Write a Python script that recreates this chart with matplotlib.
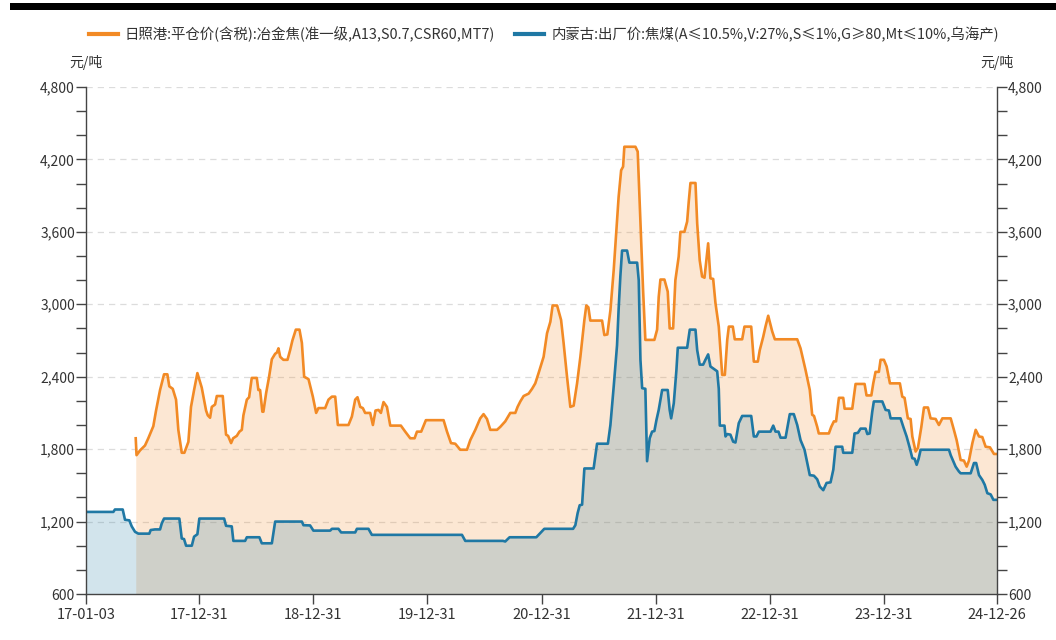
import numpy as np
import pandas as pd
import matplotlib
matplotlib.use("Agg")
import matplotlib.pyplot as plt
from matplotlib.lines import Line2D
from matplotlib.patches import Rectangle
from matplotlib.ticker import FuncFormatter, MultipleLocator

plt.rcParams['font.family'] = ['Noto Sans CJK SC', 'DejaVu Sans']

# ---- data (time in decimal years, price in 元/吨) ----
coke_t = [2017.441, 2017.448, 2017.479, 2017.522, 2017.551, 2017.595, 2017.619, 2017.654, 2017.689, 2017.718,
          2017.735, 2017.765, 2017.794, 2017.814, 2017.844, 2017.867, 2017.902, 2017.925, 2017.952, 2017.981,
          2018.019, 2018.057, 2018.072, 2018.092, 2018.107, 2018.136, 2018.151, 2018.203, 2018.215, 2018.232,
          2018.250, 2018.276, 2018.294, 2018.326, 2018.349, 2018.370, 2018.384, 2018.414, 2018.434, 2018.457,
          2018.501, 2018.515, 2018.530, 2018.550, 2018.559, 2018.583, 2018.609, 2018.633, 2018.662, 2018.677,
          2018.691, 2018.706, 2018.734, 2018.770, 2018.793, 2018.813, 2018.843, 2018.875, 2018.896, 2018.916,
          2018.954, 2018.992, 2019.021, 2019.041, 2019.100, 2019.129, 2019.159, 2019.188, 2019.211, 2019.304,
          2019.334, 2019.363, 2019.383, 2019.407, 2019.430, 2019.450, 2019.494, 2019.518, 2019.541, 2019.567,
          2019.588, 2019.611, 2019.641, 2019.670, 2019.763, 2019.801, 2019.845, 2019.883, 2019.904, 2019.941,
          2019.982, 2020.137, 2020.167, 2020.202, 2020.239, 2020.283, 2020.342, 2020.371, 2020.415, 2020.458,
          2020.487, 2020.517, 2020.546, 2020.605, 2020.634, 2020.677, 2020.721, 2020.765, 2020.785, 2020.809,
          2020.838, 2020.882, 2020.912, 2020.940, 2020.969, 2021.013, 2021.043, 2021.072, 2021.092, 2021.131,
          2021.166, 2021.188, 2021.218, 2021.247, 2021.276, 2021.306, 2021.335, 2021.370, 2021.387, 2021.405,
          2021.422, 2021.525, 2021.545, 2021.571, 2021.598, 2021.627, 2021.650, 2021.670, 2021.692, 2021.709,
          2021.720, 2021.817, 2021.837, 2021.861, 2021.884, 2021.904, 2021.983, 2022.007, 2022.021, 2022.036,
          2022.071, 2022.100, 2022.117, 2022.147, 2022.167, 2022.196, 2022.211, 2022.246, 2022.270, 2022.284,
          2022.299, 2022.343, 2022.358, 2022.380, 2022.401, 2022.422, 2022.454, 2022.474, 2022.498, 2022.518,
          2022.547, 2022.577, 2022.600, 2022.621, 2022.635, 2022.670, 2022.687, 2022.752, 2022.772, 2022.831,
          2022.854, 2022.889, 2022.906, 2022.936, 2022.956, 2022.980, 2023.015, 2023.038, 2023.234, 2023.263,
          2023.307, 2023.344, 2023.365, 2023.381, 2023.409, 2023.423, 2023.511, 2023.532, 2023.555, 2023.574,
          2023.599, 2023.637, 2023.649, 2023.716, 2023.745, 2023.824, 2023.841, 2023.883, 2023.900, 2023.920,
          2023.949, 2023.964, 2023.993, 2024.017, 2024.046, 2024.133, 2024.154, 2024.174, 2024.203, 2024.227,
          2024.242, 2024.271, 2024.291, 2024.321, 2024.344, 2024.379, 2024.402, 2024.446, 2024.475, 2024.505,
          2024.578, 2024.606, 2024.630, 2024.665, 2024.694, 2024.718, 2024.738, 2024.768, 2024.797, 2024.826,
          2024.855, 2024.884, 2024.922, 2024.957, 2024.984]
coke_v = [1890, 1750, 1790, 1830, 1890, 1990, 2120, 2290, 2420, 2420,
          2320, 2300, 2210, 1960, 1770, 1770, 1860, 2150, 2290, 2430,
          2310, 2120, 2080, 2060, 2150, 2170, 2240, 2240, 2100, 1920,
          1910, 1850, 1890, 1910, 1945, 1960, 2080, 2210, 2230, 2390,
          2390, 2290, 2290, 2110, 2110, 2265, 2400, 2545, 2590, 2600,
          2635, 2565, 2540, 2540, 2620, 2700, 2790, 2790, 2680, 2400,
          2380, 2235, 2100, 2140, 2140, 2210, 2235, 2235, 2000, 2000,
          2070, 2210, 2230, 2150, 2140, 2100, 2100, 2000, 2120, 2125,
          2100, 2190, 2150, 1995, 1995, 1945, 1890, 1890, 1945, 1945,
          2040, 2040, 1945, 1850, 1845, 1795, 1795, 1875, 1960, 2055,
          2090, 2050, 1960, 1960, 1985, 2030, 2100, 2100, 2150, 2195,
          2240, 2260, 2300, 2345, 2430, 2565, 2760, 2855, 2990, 2990,
          2870, 2680, 2400, 2150, 2160, 2345, 2565, 2870, 2990, 2975,
          2865, 2865, 2745, 2750, 2950, 3285, 3615, 3890, 4110, 4140,
          4305, 4305, 4265, 3670, 3120, 2705, 2705, 2790, 3060, 3205,
          3205, 3105, 2800, 2800, 3200, 3395, 3600, 3600, 3685, 3850,
          4005, 4005, 3670, 3365, 3230, 3220, 3505, 3215, 3210, 3010,
          2815, 2415, 2415, 2705, 2815, 2815, 2710, 2710, 2815, 2815,
          2525, 2525, 2620, 2730, 2815, 2905, 2775, 2710, 2710, 2635,
          2455, 2290, 2085, 2075, 1985, 1930, 1930, 1985, 2030, 2030,
          2225, 2225, 2135, 2135, 2340, 2340, 2245, 2245, 2345, 2440,
          2440, 2540, 2540, 2485, 2345, 2345, 2235, 2225, 2055, 2050,
          1905, 1780, 1810, 1985, 2145, 2145, 2055, 2050, 2000, 2055,
          2055, 1960, 1875, 1710, 1705, 1655, 1705, 1850, 1960, 1905,
          1900, 1820, 1815, 1760, 1760]

coal_t = [2017.005, 2017.245, 2017.259, 2017.327, 2017.347, 2017.385, 2017.406, 2017.435, 2017.464, 2017.560,
          2017.572, 2017.610, 2017.654, 2017.669, 2017.689, 2017.823, 2017.844, 2017.864, 2017.882, 2017.932,
          2017.952, 2017.981, 2017.998, 2018.215, 2018.232, 2018.282, 2018.296, 2018.399, 2018.414, 2018.524,
          2018.545, 2018.633, 2018.662, 2018.896, 2018.910, 2018.968, 2018.997, 2019.144, 2019.159, 2019.216,
          2019.240, 2019.363, 2019.378, 2019.479, 2019.509, 2020.298, 2020.327, 2020.657, 2020.677, 2020.715,
          2020.949, 2020.969, 2021.019, 2021.271, 2021.291, 2021.311, 2021.329, 2021.350, 2021.370, 2021.451,
          2021.481, 2021.576, 2021.598, 2021.627, 2021.656, 2021.670, 2021.685, 2021.700, 2021.744, 2021.764,
          2021.832, 2021.846, 2021.861, 2021.876, 2021.904, 2021.919, 2021.942, 2021.963, 2021.983, 2022.001,
          2022.021, 2022.051, 2022.100, 2022.117, 2022.130, 2022.153, 2022.176, 2022.188, 2022.270, 2022.293,
          2022.343, 2022.358, 2022.380, 2022.410, 2022.430, 2022.454, 2022.474, 2022.533, 2022.547, 2022.556,
          2022.597, 2022.606, 2022.621, 2022.649, 2022.673, 2022.693, 2022.722, 2022.752, 2022.831, 2022.854,
          2022.877, 2022.898, 2023.000, 2023.024, 2023.044, 2023.070, 2023.088, 2023.132, 2023.146, 2023.169,
          2023.204, 2023.234, 2023.263, 2023.298, 2023.322, 2023.344, 2023.380, 2023.409, 2023.432, 2023.462,
          2023.491, 2023.526, 2023.550, 2023.570, 2023.628, 2023.637, 2023.716, 2023.736, 2023.765, 2023.789,
          2023.833, 2023.848, 2023.868, 2023.891, 2023.905, 2023.979, 2024.008, 2024.037, 2024.052, 2024.139,
          2024.163, 2024.192, 2024.221, 2024.242, 2024.262, 2024.280, 2024.297, 2024.315, 2024.563, 2024.578,
          2024.621, 2024.650, 2024.665, 2024.753, 2024.782, 2024.801, 2024.826, 2024.855, 2024.876, 2024.899,
          2024.928, 2024.952, 2024.984]
coal_v = [1280, 1280, 1300, 1300, 1215, 1210, 1160, 1115, 1100, 1100,
          1130, 1135, 1135, 1185, 1225, 1225, 1060, 1055, 1000, 1000,
          1075, 1095, 1225, 1225, 1165, 1160, 1040, 1040, 1070, 1070,
          1020, 1020, 1200, 1200, 1170, 1168, 1125, 1125, 1140, 1140,
          1110, 1110, 1140, 1140, 1090, 1090, 1040, 1040, 1035, 1070,
          1070, 1090, 1140, 1140, 1170, 1270, 1335, 1340, 1640, 1640,
          1845, 1845, 2000, 2320, 2660, 2960, 3230, 3445, 3445, 3345,
          3345, 3200, 2540, 2305, 2300, 1700, 1890, 1945, 1950, 2040,
          2125, 2290, 2290, 2125, 2055, 2180, 2455, 2640, 2640, 2790,
          2790, 2620, 2500, 2500, 2540, 2585, 2485, 2445, 2300, 1995,
          1995, 1905, 1925, 1920, 1862, 1855, 2015, 2075, 2075, 1905,
          1905, 1945, 1945, 1995, 1945, 1945, 1895, 1895, 1970, 2090,
          2090, 2000, 1875, 1795, 1685, 1585, 1580, 1550, 1490, 1460,
          1520, 1525, 1630, 1820, 1820, 1770, 1770, 1930, 1935, 1970,
          1970, 1925, 1930, 2110, 2195, 2195, 2125, 2120, 2055, 2055,
          1985, 1905, 1805, 1725, 1720, 1670, 1720, 1795, 1795, 1750,
          1655, 1615, 1600, 1600, 1685, 1685, 1585, 1545, 1505, 1435,
          1425, 1380, 1380]

x_ticks = ['2017-01-03', '2017-12-31', '2018-12-31', '2019-12-31', '2020-12-31',
           '2021-12-31', '2022-12-31', '2023-12-31', '2024-12-26']
x_labels = ['17-01-03', '17-12-31', '18-12-31', '19-12-31', '20-12-31',
            '21-12-31', '22-12-31', '23-12-31', '24-12-26']
y_ticks = [600, 1200, 1800, 2400, 3000, 3600, 4200, 4800]

name_coke = '日照港:平仓价(含税):冶金焦(准一级,A13,S0.7,CSR60,MT7)'
name_coal = '内蒙古:出厂价:焦煤(A≤10.5%,V:27%,S≤1%,G≥80,Mt≤10%,乌海产)'
unit = '元/吨'


def to_dates(years):
    base = pd.Timestamp('2017-01-01')
    return base + pd.to_timedelta((np.asarray(years) - 2017.0) * 365.25, unit='D')


ORANGE = '#f28a25'
BLUE = '#1f78a4'
TXT = '#333333'

fig = plt.figure(figsize=(10.56, 6.4), dpi=100)
W, H = 1056, 640
ax = fig.add_axes([86 / W, 1 - 594 / H, (997 - 86) / W, (594 - 87) / H])

ct = to_dates(coke_t)
bt = to_dates(coal_t)

ax.fill_between(ct, coke_v, 600, color=ORANGE, alpha=0.2, linewidth=0, zorder=1)
ax.fill_between(bt, coal_v, 600, color=BLUE, alpha=0.2, linewidth=0, zorder=2)
ax.plot(ct, coke_v, color=ORANGE, lw=1.9, zorder=4, solid_joinstyle='round')
ax.plot(bt, coal_v, color=BLUE, lw=1.9, zorder=4, solid_joinstyle='round')

ax.set_xlim(pd.Timestamp('2017-01-03'), pd.Timestamp('2024-12-26'))
ax.set_ylim(600, 4800)
ax.set_xticks(pd.to_datetime(x_ticks))
ax.set_xticklabels(x_labels)
ax.set_yticks(y_ticks)
ax.yaxis.set_minor_locator(MultipleLocator(200))
ax.yaxis.set_major_formatter(FuncFormatter(lambda v, p: f'{int(v):,}'))

for yv in y_ticks[1:]:
    ax.axhline(yv, color='#dcdcdc', lw=0.9, ls=(0, (5, 4)), zorder=0)

ax.spines['top'].set_visible(False)
for s in ['left', 'right', 'bottom']:
    ax.spines[s].set_color('#444444')
    ax.spines[s].set_linewidth(1.0)
    ax.spines[s].set_zorder(5)

ax.tick_params(axis='y', which='both', left=True, right=True, labelleft=True, labelright=True,
               direction='out', length=7, width=1, color='#444444', labelsize=10, labelcolor=TXT, pad=1)
ax.tick_params(axis='x', direction='out', length=7, width=1, color='#444444', labelsize=10.5,
               labelcolor=TXT, pad=3)

fig.text(86 / W, 1 - 63 / H, unit, ha='center', va='center', fontsize=10, color=TXT)
fig.text(997 / W, 1 - 63 / H, unit, ha='center', va='center', fontsize=10, color=TXT)

handles = [Line2D([0], [0], color=ORANGE, lw=3), Line2D([0], [0], color=BLUE, lw=3)]
fig.legend(handles, [name_coke, name_coal], loc='center', bbox_to_anchor=(0.515, 1 - 34 / H),
           ncol=2, frameon=False, handlelength=2.0, handletextpad=0.5,
           columnspacing=1.4, labelcolor=TXT,
           prop={'family': ['Noto Sans CJK SC', 'DejaVu Sans'], 'size': 10.4})

fig.patches.append(Rectangle((10 / W, 1 - 10 / H), 1 - 10 / W, 7 / H, transform=fig.transFigure,
                             facecolor='black', edgecolor='none'))

fig.savefig('out.png', dpi=100)
